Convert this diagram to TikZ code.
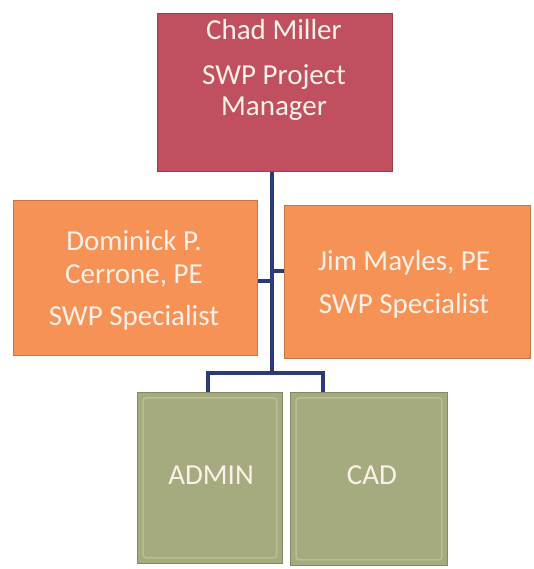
\documentclass[tikz,border=0pt]{standalone}
\usepackage{fontspec}
\setmainfont{Carlito}
\begin{document}
\begin{tikzpicture}[x=1pt,y=1pt,
  box/.style={draw=#1!80!black, line width=0.8pt, fill=#1, inner sep=0pt},
  txt/.style={text=boxtext, align=center, font=\fontsize{29}{31}\selectfont, inner sep=0pt},
  conn/.style={draw=navy, line width=3.2pt}]
\definecolor{rose}{HTML}{C0505F}
\definecolor{orng}{HTML}{F79256}
\definecolor{olive}{HTML}{A6AA7F}
\definecolor{oliveLight}{HTML}{BABD96}
\definecolor{boxtext}{HTML}{FBF1E8}
\definecolor{navy}{HTML}{2B3A78}
\useasboundingbox (0,0) rectangle (534,569);
\fill[white] (0,0) rectangle (534,569);
% boxes
\node[box=rose, minimum width=235, minimum height=158, anchor=north west] (pm) at (157,556) {};
\node[box=orng, minimum width=244, minimum height=155, anchor=north west] (ds) at (13,369) {};
\node[box=orng, minimum width=246, minimum height=153, anchor=north west] (jm) at (284,364) {};
\node[box=olive, minimum width=145, minimum height=171, anchor=north west] (ad) at (137,177) {};
\node[box=olive, minimum width=157, minimum height=173, anchor=north west] (cd) at (290,177) {};
% bevel highlights
\draw[oliveLight, line width=1.5pt, rounded corners=3pt] ([shift={(6,-6)}]ad.north west) rectangle ([shift={(-6,6)}]ad.south east);
\draw[oliveLight, line width=1.5pt, rounded corners=3pt] ([shift={(6,-6)}]cd.north west) rectangle ([shift={(-6,6)}]cd.south east);
% texts
\node[txt] (pmt) at (274,499) {Chad Miller\\[14pt]SWP Project\\Manager};
\node[txt, font=\fontsize{29}{33}\selectfont] (dst) at (134,289) {Dominick P.\\Cerrone, PE\\[9pt]SWP Specialist};
\node[txt] (jmt) at (404,285) {Jim Mayles, PE\\[12pt]SWP Specialist};
\node[txt] (adt) at (211,94) {ADMIN};
\node[txt] (cdt) at (372,94) {CAD};
% connectors
\coordinate (trunkTop) at (272,398);
\coordinate (jL) at (272,288);
\coordinate (jR) at (272,298);
\coordinate (jB) at (272,196);
\coordinate (bL) at (208,196);
\coordinate (bR) at (323,196);
\draw[conn] (pm.south -| trunkTop) -- (jB);
\draw[conn] (jL) -- (jL -| ds.east);
\draw[conn] (jR) -- (jR -| jm.west);
\draw[conn] (bL |- ad.north) -- (bL) -- (bR) -- (bR |- cd.north);
\end{tikzpicture}
\end{document}
